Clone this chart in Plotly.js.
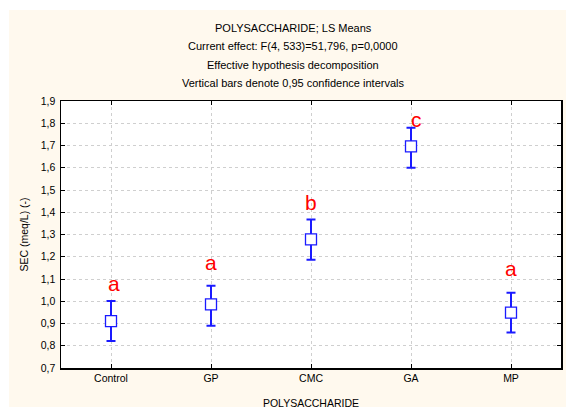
<!DOCTYPE html>
<html>
<head>
<meta charset="utf-8">
<script src="https://cdn.plot.ly/plotly-3.0.1.min.js"></script>
<style>html,body{margin:0;padding:0;background:#fff;}#chart{width:568px;height:409px;}</style>
</head>
<body>
<div id="chart"></div>
<script>
// Data
const categories = ["Control", "GP", "CMC", "GA", "MP"];
const means = [0.911, 0.986, 1.278, 1.696, 0.949];
const upperCI = [1.001, 1.070, 1.367, 1.780, 1.038];
const lowerCI = [0.821, 0.890, 1.187, 1.600, 0.859];
const letters = ["a", "a", "b", "c", "a"];
const letterY = [1.082, 1.173, 1.442, 1.819, 1.149];
const titleLines = [
  "POLYSACCHARIDE; LS Means",
  "Current effect: F(4, 533)=51,796, p=0,0000",
  "Effective hypothesis decomposition",
  "Vertical bars denote 0,95 confidence intervals"
];

const FONT = "Liberation Sans, Arial, sans-serif";
const blue = "#1a1aff";

const trace = {
  type: "scatter",
  mode: "markers",
  x: categories,
  y: means,
  marker: {symbol: "square", size: 11, color: "#ffffff", line: {color: blue, width: 1.3}},
  error_y: {
    type: "data",
    symmetric: false,
    array: upperCI.map((u, i) => u - means[i]),
    arrayminus: lowerCI.map((l, i) => means[i] - l),
    color: blue,
    thickness: 2,
    width: 4.5
  },
  hoverinfo: "skip",
  showlegend: false
};

const annotations = [];
titleLines.forEach((t, i) => {
  annotations.push({
    text: t, xref: "paper", yref: "paper",
    x: 0.464, y: (368 - (28 + i * 18.3)) / 267,
    xanchor: "center", yanchor: "middle", showarrow: false,
    font: {family: FONT, size: 11, color: "#000"}
  });
});
letters.forEach((L, i) => {
  annotations.push({
    text: L, x: categories[i], y: letterY[i], xref: "x", yref: "y",
    xshift: (i === 0 ? 3 : (i === 3 ? 5 : 0)),
    showarrow: false, xanchor: "center", yanchor: "middle",
    font: {family: FONT, size: 21, color: "#ff0000"}
  });
});

const layout = {
  width: 568, height: 409,
  margin: {l: 61, r: 7, t: 101, b: 41, pad: 0},
  paper_bgcolor: "#ffffff",
  plot_bgcolor: "#ffffff",
  separators: ",.",
  font: {family: FONT, size: 10, color: "#000"},
  showlegend: false,
  shapes: [
    {type: "rect", xref: "paper", yref: "paper", layer: "below",
     x0: (9 - 61) / 500, x1: (566 - 61) / 500, y0: (368 - 407) / 267, y1: (368 - 10) / 267,
     fillcolor: "#fff9ee", line: {width: 0}},
    {type: "rect", xref: "paper", yref: "paper", layer: "below",
     x0: 0, x1: 1, y0: 0, y1: 1, fillcolor: "#ffffff", line: {width: 0}}
  ],
  xaxis: {
    type: "category",
    range: [-0.5, 4.5],
    showline: true, linecolor: "#000", linewidth: 1.5, mirror: "ticks",
    ticks: "inside", ticklen: 4, tickcolor: "#000", tickwidth: 1,
    showgrid: true, gridcolor: "#cfcfcf", griddash: "dot", gridwidth: 1,
    zeroline: false,
    tickfont: {family: FONT, size: 10.5, color: "#000"},
    title: {text: "POLYSACCHARIDE", font: {family: FONT, size: 10.5, color: "#000"}, standoff: 17}
  },
  yaxis: {
    range: [0.7, 1.9],
    tickvals: [0.7, 0.8, 0.9, 1.0, 1.1, 1.2, 1.3, 1.4, 1.5, 1.6, 1.7, 1.8, 1.9],
    tickformat: ".1f",
    showline: true, linecolor: "#000", linewidth: 1.5, mirror: "ticks",
    ticks: "inside", ticklen: 4, tickcolor: "#000", tickwidth: 1,
    showgrid: true, gridcolor: "#cfcfcf", griddash: "dot", gridwidth: 1,
    zeroline: false,
    ticklabelstandoff: 2,
    tickfont: {family: FONT, size: 10.5, color: "#000"},
    title: {text: "SEC (meq/L) (-)", font: {family: FONT, size: 10.5, color: "#000"}, standoff: 10}
  },
  annotations: annotations
};

Plotly.newPlot("chart", [trace], layout, {displayModeBar: false, staticPlot: true});
</script>
</body>
</html>
